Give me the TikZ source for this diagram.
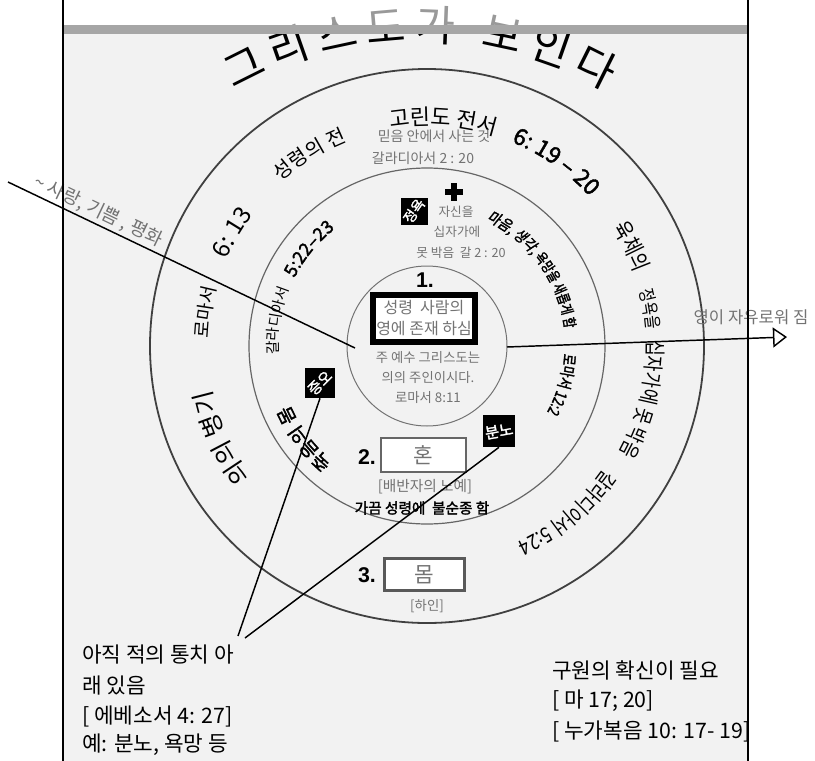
\documentclass[tikz,border=0pt]{standalone}
\usepackage{fontspec}
\newfontfamily\korS{Noto Sans CJK KR}
\newfontfamily\korSC{Noto Sans CJK KR}[FakeStretch=0.8]
\newfontfamily\korB{Noto Sans CJK KR}[FakeBold=2]
\newfontfamily\korBC{Noto Sans CJK KR}[FakeBold=2,FakeStretch=0.78]
\newfontfamily\korBIC{Noto Sans CJK KR}[FakeBold=2,FakeSlant=0.2,FakeStretch=0.85]
\newfontfamily\libS{Liberation Sans}
\usetikzlibrary{decorations.text,arrows.meta,calc}
\newcommand\myfs[1]{\fontsize{#1}{#1}\selectfont}
% radius, centre angle, text (clockwise, tops outward)
\newcommand\ringc[3]{\path[decorate,decoration={text along path,text align=center,text={#3}}] ($(C)+(#2+50:#1)$) arc[start angle=#2+50,end angle=#2-50,radius=#1];}
\begin{document}
\begin{tikzpicture}[x=0.75pt,y=0.75pt,
  gtxt/.style={text=black!55,inner sep=0pt},
  conn/.style={draw=black,line width=1.1pt},
  blk/.style={fill=black,inner sep=0pt},
  num/.style={font=\libS\bfseries\myfs{16},inner sep=0pt},
  btxt/.style={anchor=west,inner sep=0pt,font=\korS\myfs{16}}]
\useasboundingbox (0,0) rectangle (815,-761);
\fill[white] (0,0) rectangle (815,-761);
\fill[black!5] (63,-30) rectangle (748,-761);
\coordinate (C) at (427,-346);
\coordinate (T) at (420,-420);
% title
\path[decorate,decoration={text along path,text align=fit to path,
  text={|\korS\myfs{32}|그리스도가 보인다}}]
  ($(T)+(119.5:379)$) arc[start angle=119.5,end angle=60.5,radius=379];
\fill[white,opacity=0.6] (63,0) rectangle (748,-25);
\fill[black!35] (63,-25) rectangle (748,-34);
% circles
\draw[line width=1.35pt,black!75] (C) circle[radius=277];
\draw[line width=0.9pt,black!60] (C) circle[radius=178];
\draw[line width=0.75pt,black!55] (C) circle[radius=80];
% outer ring texts
\ringc{220}{204}{|\korS\myfs{18.5}|의의 병기}
\ringc{218}{171.3}{|\korS\myfs{14}|로마서}
\ringc{218}{149.8}{|\korS\myfs{18}|6: 13}
\ringc{220}{121.5}{|\korS\myfs{15}|성령의 전}
\ringc{221}{85.8}{|\korS\myfs{16.5}|고린도 전서}
\ringc{221}{55}{|\korB\myfs{17}|6: 19 – 20}
\ringc{220}{26}{|\korSC\myfs{17}|육체의}
\ringc{220}{9.5}{|\korSC\myfs{13.5}|정욕을}
\ringc{220}{-13.8}{|\korSC\myfs{16}|십자가에 못 박음}
\ringc{216}{-50}{|\korSC\myfs{16}|갈라디아서 5:24}
% middle ring texts
\ringc{149}{170.3}{|\korS\myfs{11}|갈라디아서}
\ringc{149}{140.5}{|\korB\myfs{13.5}|5:22–23}
\ringc{139}{36}{|\korBIC\myfs{11.5}|마음, 생각, |\korBC\myfs{11}|욕망을 새롭게 함}
\ringc{137}{-16}{|\korBC\myfs{12}|로마서 12:2}
\ringc{150}{217}{|\korB\myfs{14}|죽음의 몸}
% top gray texts
\node[gtxt,font=\korS\myfs{10.5}] (faith1) at (434,-136) {믿음 안에서 사는 것};
\node[gtxt,font=\korS\myfs{10.5}] (faith2) at (423,-158) {갈라디아서 2 : 20};
% lust box and cross
\node[blk,minimum size=20.25pt] (lust) at (414,-211) {};
\node[rotate=55,text=white,inner sep=0pt,font=\korB\myfs{10.5}] (lusttxt) at (lust) {정욕};
\coordinate (cross) at (454,-192);
\draw[line width=4.5pt] ($(cross)+(0,9)$) -- ($(cross)+(0,-9)$) ($(cross)+(-9,0)$) -- ($(cross)+(9,0)$);
\node[gtxt,font=\korS\myfs{9.5}] (self1) at (456,-212) {자신을};
\node[gtxt,font=\korS\myfs{9.5}] (self2) at (457,-232) {십자가에};
\node[gtxt,font=\korS\myfs{9.5}] (self3) at (461,-253) {못 박음~~갈 2 : 20};
% inner circle
\node[num] (n1) at (425,-280) {1.};
\node[draw=black,line width=4.5pt,fill=white,minimum width=76.5pt,minimum height=35.25pt,inner sep=0pt,text=black!55,align=center,font={\korS\fontsize{12}{15.75}\selectfont}] (spirit) at (424,-318.5) {성령~~사람의\\영에 존재 하심};
\node[gtxt,font=\korS\myfs{10}] (jesus1) at (428,-358) {주 예수 그리스도는};
\node[gtxt,font=\korS\myfs{10}] (jesus2) at (428,-378) {의의 주인이시다.};
\node[gtxt,font=\korS\myfs{10}] (jesus3) at (428,-398) {로마서 8:11};
% hate / anger
\node[blk,minimum size=22.5pt] (hate) at (320,-383) {};
\node[rotate=45,text=white,inner sep=0pt,font=\korB\myfs{11}] (hatetxt) at (hate) {증오};
\node[blk,minimum size=24pt] (anger) at (499,-431) {};
\node[rotate=10,text=white,inner sep=0pt,font=\korB\myfs{11.5}] (angertxt) at (anger) {분노};
% soul
\node[num] (n2) at (367,-457) {2.};
\node[draw=black!60,line width=1.5pt,fill=white,minimum width=63.75pt,minimum height=25.5pt,text=black!55,font=\korS\myfs{16}] (soul) at (423.5,-455) {혼};
\node[gtxt,font=\korS\myfs{11}] (slave) at (425,-487) {[배반자의 노예]};
\node[inner sep=0pt,font=\korB\myfs{11}] (disobey) at (422,-508) {가끔 성령에~~불순종 함};
% body
\node[num] (n3) at (367,-575) {3.};
\node[draw=black!65,line width=2.25pt,fill=white,minimum width=60pt,minimum height=24pt,text=black!55,font=\korS\myfs{16}] (body) at (424.5,-574.5) {몸};
\node[gtxt,font=\korS\myfs{10}] (servant) at (427,-606) {[하인]};
% connectors
\coordinate (loveA) at (8,-182);
\coordinate (loveB) at (355,-348);
\draw[conn] (loveA) -- node[pos=0.245,sloped,above=2pt,gtxt,font=\korS\myfs{14}] (lovetxt) {\textasciitilde\ 사랑, 기쁨 , 평화} (loveB);
\coordinate (frA) at (507,-347);
\coordinate (frB) at (787,-337);
\draw[conn,-{Triangle[open,length=10.5pt,width=15pt]}] (frA) -- (frB);
\node[gtxt,font=\korS\myfs{12.5}] (freetxt) at (751,-317) {영이 자유로워 짐};
\coordinate (convL) at (238,-636);
\coordinate (convR) at (245,-638);
\draw[conn] (hate.south) -- (convL);
\draw[conn] (anger.south) -- (convR);
% bottom texts
\node[btxt] (tl1) at (82,-655) {아직 적의 통치 아};
\node[btxt] (tl2) at (82,-686) {래 있음};
\node[btxt] (tl3) at (82,-716) {[ 에베소서 4: 27]};
\node[btxt] (tl4) at (82,-745) {예: 분노, 욕망 등};
\node[btxt] (tr1) at (552,-670) {구원의 확신이 필요};
\node[btxt] (tr2) at (552,-701) {[ 마 17; 20]};
\node[btxt] (tr3) at (552,-731) {[ 누가복음 10: 17- 19]};
% frame
\draw[line width=1.2pt] (63,0) -- (63,-761);
\draw[line width=1.2pt] (748,0) -- (748,-761);
\end{tikzpicture}
\end{document}
